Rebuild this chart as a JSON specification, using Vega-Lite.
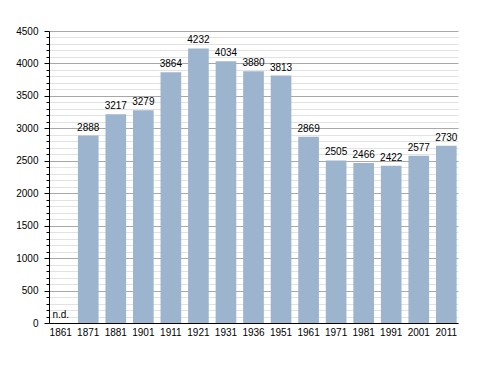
{
  "$schema": "https://vega.github.io/schema/vega-lite/v6.json",
  "autosize": "none",
  "width": 409,
  "height": 292,
  "padding": {"left": 49, "top": 31, "right": 30, "bottom": 50},
  "background": "white",
  "config": {
    "view": {"stroke": null},
    "font": "Liberation Sans"
  },
  "data": {
    "values": [
      {"year": "1861", "pop": null, "note": "n.d."},
      {"year": "1871", "pop": 2888},
      {"year": "1881", "pop": 3217},
      {"year": "1901", "pop": 3279},
      {"year": "1911", "pop": 3864},
      {"year": "1921", "pop": 4232},
      {"year": "1931", "pop": 4034},
      {"year": "1936", "pop": 3880},
      {"year": "1951", "pop": 3813},
      {"year": "1961", "pop": 2869},
      {"year": "1971", "pop": 2505},
      {"year": "1981", "pop": 2466},
      {"year": "1991", "pop": 2422},
      {"year": "2001", "pop": 2577},
      {"year": "2011", "pop": 2730}
    ]
  },
  "layer": [
    {
      "mark": {"type": "bar", "color": "#9cb4cd"},
      "encoding": {
        "x": {
          "field": "year", "type": "nominal",
          "scale": {"domain": ["1861","1871","1881","1901","1911","1921","1931","1936","1951","1961","1971","1981","1991","2001","2011"], "paddingInner": 0.25, "paddingOuter": 0.05},
          "axis": {
            "title": null, "labelAngle": 0, "ticks": false,
            "domainColor": "#000", "domainWidth": 1,
            "labelFontSize": 10, "labelColor": "#000", "labelPadding": 4
          }
        },
        "y": {
          "field": "pop", "type": "quantitative",
          "scale": {"domain": [0, 4500], "nice": false},
          "axis": {
            "title": null,
            "values": [0,100,200,300,400,500,600,700,800,900,1000,1100,1200,1300,1400,1500,1600,1700,1800,1900,2000,2100,2200,2300,2400,2500,2600,2700,2800,2900,3000,3100,3200,3300,3400,3500,3600,3700,3800,3900,4000,4100,4200,4300,4400,4500],
            "labelExpr": "datum.value % 500 === 0 ? datum.label : ''",
            "format": "d",
            "labelOverlap": false,
            "labelFontSize": 10, "labelColor": "#000", "labelPadding": 6,
            "domainColor": "#000", "domainWidth": 1,
            "tickColor": "#000",
            "tickSize": {"condition": {"test": "datum.value % 500 === 0", "value": 5}, "value": 3},
            "grid": true,
            "gridColor": {"condition": {"test": "datum.value % 500 === 0", "value": "#a8a8a8"}, "value": "#e2e2e2"},
            "gridWidth": 1
          }
        }
      }
    },
    {
      "transform": [{"filter": "datum.pop != null"}],
      "mark": {"type": "text", "baseline": "bottom", "dy": -3, "fontSize": 10, "color": "#000"},
      "encoding": {
        "x": {
          "field": "year", "type": "nominal",
          "axis": {
            "title": null, "labelAngle": 0, "ticks": false,
            "domainColor": "#000", "domainWidth": 1,
            "labelFontSize": 10, "labelColor": "#000", "labelPadding": 4
          }
        },
        "y": {
          "field": "pop", "type": "quantitative",
          "axis": {
            "title": null,
            "values": [0,100,200,300,400,500,600,700,800,900,1000,1100,1200,1300,1400,1500,1600,1700,1800,1900,2000,2100,2200,2300,2400,2500,2600,2700,2800,2900,3000,3100,3200,3300,3400,3500,3600,3700,3800,3900,4000,4100,4200,4300,4400,4500],
            "labelExpr": "datum.value % 500 === 0 ? datum.label : ''",
            "format": "d",
            "labelOverlap": false,
            "labelFontSize": 10, "labelColor": "#000", "labelPadding": 6,
            "domainColor": "#000", "domainWidth": 1,
            "tickColor": "#000",
            "tickSize": {"condition": {"test": "datum.value % 500 === 0", "value": 5}, "value": 3},
            "grid": true,
            "gridColor": {"condition": {"test": "datum.value % 500 === 0", "value": "#a8a8a8"}, "value": "#e2e2e2"},
            "gridWidth": 1
          }
        },
        "text": {"field": "pop", "type": "quantitative", "format": "d"}
      }
    },
    {
      "transform": [{"filter": "datum.note != null"}],
      "mark": {"type": "text", "baseline": "bottom", "align": "left", "dx": 2, "dy": -3, "fontSize": 10, "color": "#000"},
      "encoding": {
        "x": {
          "field": "year", "type": "nominal", "bandPosition": 0,
          "axis": {
            "title": null, "labelAngle": 0, "ticks": false,
            "domainColor": "#000", "domainWidth": 1,
            "labelFontSize": 10, "labelColor": "#000", "labelPadding": 4
          }
        },
        "y": {
          "datum": 0, "type": "quantitative",
          "axis": {
            "title": null,
            "values": [0,100,200,300,400,500,600,700,800,900,1000,1100,1200,1300,1400,1500,1600,1700,1800,1900,2000,2100,2200,2300,2400,2500,2600,2700,2800,2900,3000,3100,3200,3300,3400,3500,3600,3700,3800,3900,4000,4100,4200,4300,4400,4500],
            "labelExpr": "datum.value % 500 === 0 ? datum.label : ''",
            "format": "d",
            "labelOverlap": false,
            "labelFontSize": 10, "labelColor": "#000", "labelPadding": 6,
            "domainColor": "#000", "domainWidth": 1,
            "tickColor": "#000",
            "tickSize": {"condition": {"test": "datum.value % 500 === 0", "value": 5}, "value": 3},
            "grid": true,
            "gridColor": {"condition": {"test": "datum.value % 500 === 0", "value": "#a8a8a8"}, "value": "#e2e2e2"},
            "gridWidth": 1
          }
        },
        "text": {"field": "note"}
      }
    }
  ]
}
